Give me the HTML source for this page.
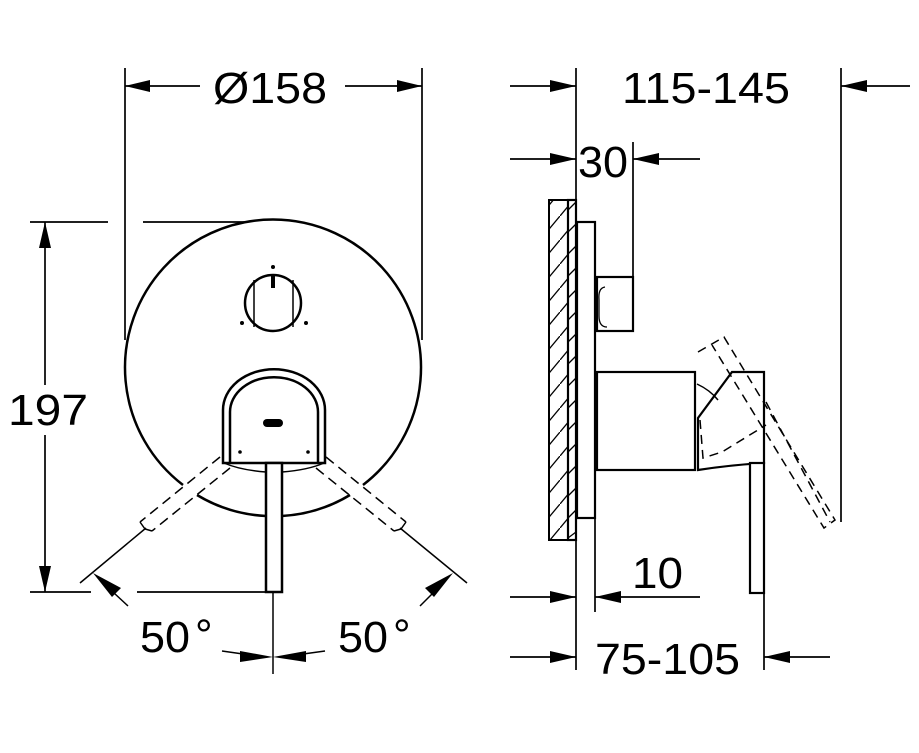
<!DOCTYPE html>
<html><head><meta charset="utf-8"><style>
html,body{margin:0;padding:0;background:#fff;}
svg{display:block;}
text{font-family:"Liberation Sans",Arial,sans-serif;fill:#000;}
</style></head><body>
<svg width="919" height="753" viewBox="0 0 919 753" xmlns="http://www.w3.org/2000/svg">
<defs>
<pattern id="h" patternUnits="userSpaceOnUse" width="20" height="24">
<line x1="0" y1="24" x2="20" y2="0" stroke="#000" stroke-width="1.3"/>
</pattern>
</defs>
<g fill="none" stroke="#000" stroke-width="1.7">
<line x1="125" y1="68" x2="125" y2="340"/>
<line x1="422" y1="68" x2="422" y2="340"/>
<line x1="125" y1="86" x2="200" y2="86"/>
<line x1="345" y1="86" x2="422" y2="86"/>
<line x1="30" y1="222" x2="108" y2="222"/>
<line x1="143" y1="222" x2="245" y2="222"/>
<line x1="30" y1="592" x2="91" y2="592"/>
<line x1="137" y1="592" x2="273" y2="592"/>
<line x1="45" y1="222" x2="45" y2="385"/>
<line x1="45" y1="435" x2="45" y2="592"/>
</g>
<g fill="#000" stroke="none">
<polygon points="125,86 150,80 150,92"/>
<polygon points="422,86 397,80 397,92"/>
<polygon points="45,222 39,248 51,248"/>
<polygon points="45,592 39,566 51,566"/>
</g>
<text x="213" y="103" font-size="44" textLength="114" lengthAdjust="spacingAndGlyphs">Ø158</text>
<text x="8" y="425" font-size="44" textLength="80" lengthAdjust="spacingAndGlyphs">197</text>

<g fill="none" stroke="#000" stroke-width="2.5">
<path d="M183,485 A148,148 0 1 1 363,485"/>
<path d="M197,495 A148,148 0 0 0 266,516"/>
<path d="M282,516 A148,148 0 0 0 350,495"/>
<circle cx="273" cy="303" r="28"/>
<path d="M223,463 L223,410 A50,40 0 0 1 325,410 L325,463 Z"/>
<path d="M230,463 L230,412 A43,34 0 0 1 318,412 L318,463"/>
<path d="M224,463 Q240,470 266,472 M282,472 Q308,470 324,463" stroke-width="1.5"/>
<rect x="266" y="463" width="16" height="129" fill="#fff"/>
</g>
<g stroke="#000" stroke-width="1.5" fill="none">
<line x1="254" y1="280" x2="254" y2="327"/>
<line x1="293" y1="280" x2="293" y2="327"/>
</g>
<rect x="271" y="276" width="4" height="12" fill="#000"/>
<circle cx="273" cy="267" r="2" fill="#000"/>
<circle cx="242" cy="323" r="2" fill="#000"/>
<circle cx="306" cy="323" r="2" fill="#000"/>
<circle cx="240" cy="452" r="1.8" fill="#000"/>
<circle cx="308" cy="452" r="1.8" fill="#000"/>
<rect x="263" y="419" width="20" height="8" rx="4" fill="#000"/>
<g stroke="#000" stroke-width="1.5" fill="none" stroke-dasharray="10,6">
<line x1="220" y1="457" x2="140" y2="522"/>
<line x1="230" y1="468" x2="152" y2="531"/>
<line x1="326" y1="457" x2="406" y2="522"/>
<line x1="316" y1="468" x2="394" y2="531"/>
</g>
<g stroke="#000" stroke-width="1.5" fill="none">
<path d="M140,522 L145,529 L152,531"/>
<path d="M406,522 L401,529 L394,531"/>
<line x1="146" y1="528" x2="80" y2="583"/>
<line x1="400" y1="528" x2="467" y2="583"/>
<line x1="128" y1="606" x2="100" y2="580"/>
<line x1="420" y1="606" x2="446" y2="580"/>
<line x1="273" y1="592" x2="273" y2="674"/>
<line x1="222" y1="651" x2="250" y2="655"/>
<line x1="325" y1="651" x2="296" y2="655"/>
</g>
<g fill="#000">
<polygon points="93,573 121,588 112,597"/>
<polygon points="453,573 425,588 434,597"/>
<polygon points="273,657 240,651 240,662"/>
<polygon points="273,657 306,651 306,662"/>
</g>
<text x="140" y="652" font-size="44" textLength="50" lengthAdjust="spacingAndGlyphs">50</text>
<text x="195" y="650" font-size="44">°</text>
<text x="338" y="652" font-size="44" textLength="50" lengthAdjust="spacingAndGlyphs">50</text>
<text x="393" y="650" font-size="44">°</text>

<g stroke="#000" stroke-width="1.7" fill="none">
<line x1="576" y1="68" x2="576" y2="200"/>
<line x1="841" y1="68" x2="841" y2="522"/>
<line x1="510" y1="86" x2="576" y2="86"/>
<line x1="841" y1="86" x2="910" y2="86"/>
<line x1="510" y1="159" x2="576" y2="159"/>
<line x1="633" y1="159" x2="700" y2="159"/>
<line x1="633" y1="142" x2="633" y2="277"/>
<line x1="576" y1="540" x2="576" y2="670"/>
<line x1="595" y1="518" x2="595" y2="612"/>
<line x1="764" y1="593" x2="764" y2="670"/>
<line x1="510" y1="597" x2="576" y2="597"/>
<line x1="595" y1="597" x2="700" y2="597"/>
<line x1="510" y1="657" x2="576" y2="657"/>
<line x1="764" y1="657" x2="830" y2="657"/>
</g>
<g fill="#000">
<polygon points="576,86 550,80 550,92"/>
<polygon points="841,86 867,80 867,92"/>
<polygon points="576,159 550,153 550,165"/>
<polygon points="633,159 659,153 659,165"/>
<polygon points="576,597 550,591 550,603"/>
<polygon points="595,597 621,591 621,603"/>
<polygon points="576,657 550,651 550,663"/>
<polygon points="764,657 790,651 790,663"/>
</g>
<text x="622" y="103" font-size="44" textLength="168" lengthAdjust="spacingAndGlyphs">115-145</text>
<text x="578" y="177" font-size="44" textLength="50" lengthAdjust="spacingAndGlyphs">30</text>
<text x="632" y="588" font-size="44" textLength="51" lengthAdjust="spacingAndGlyphs">10</text>
<text x="595" y="674" font-size="44" textLength="145" lengthAdjust="spacingAndGlyphs">75-105</text>

<rect x="549" y="200" width="19" height="340" fill="url(#h)" stroke="#000" stroke-width="2"/>
<g stroke="#000" stroke-width="2.2" fill="none">
<rect x="568" y="200" width="8" height="340"/>
<path d="M568,210 L576,202 M568,232 L576,224 M568,254 L576,246 M568,276 L576,268 M568,298 L576,290 M568,320 L576,312 M568,342 L576,334 M568,364 L576,356 M568,386 L576,378 M568,408 L576,400 M568,430 L576,422 M568,452 L576,444 M568,474 L576,466 M568,496 L576,488 M568,518 L576,510 M568,538 L576,532" stroke-width="1.3"/>
<rect x="577" y="222" width="18" height="296"/>
<rect x="597" y="277" width="36" height="54"/>
<path d="M605,287 Q598,288 599,300 L599,316 Q599,327 607,327" stroke-width="1.3"/>
<rect x="597" y="372" width="98" height="98"/>
<path d="M698,470 L698,418 L732,372 L764,372 L764,463 Q730,465 698,470 Z"/>
<path d="M697,384 Q710,390 718,400" stroke-width="1.5"/>
<rect x="750" y="463" width="14" height="130" fill="#fff"/>
</g>
<g stroke="#000" stroke-width="1.5" fill="none" stroke-dasharray="9,6">
<path d="M698,352 L724,337 L835,520 L824,528 L712,345"/>
<path d="M700,420 L703,458 L722,452 L766,425"/>
<line x1="766" y1="402" x2="830" y2="522"/>
</g>
</svg>
</body></html>
